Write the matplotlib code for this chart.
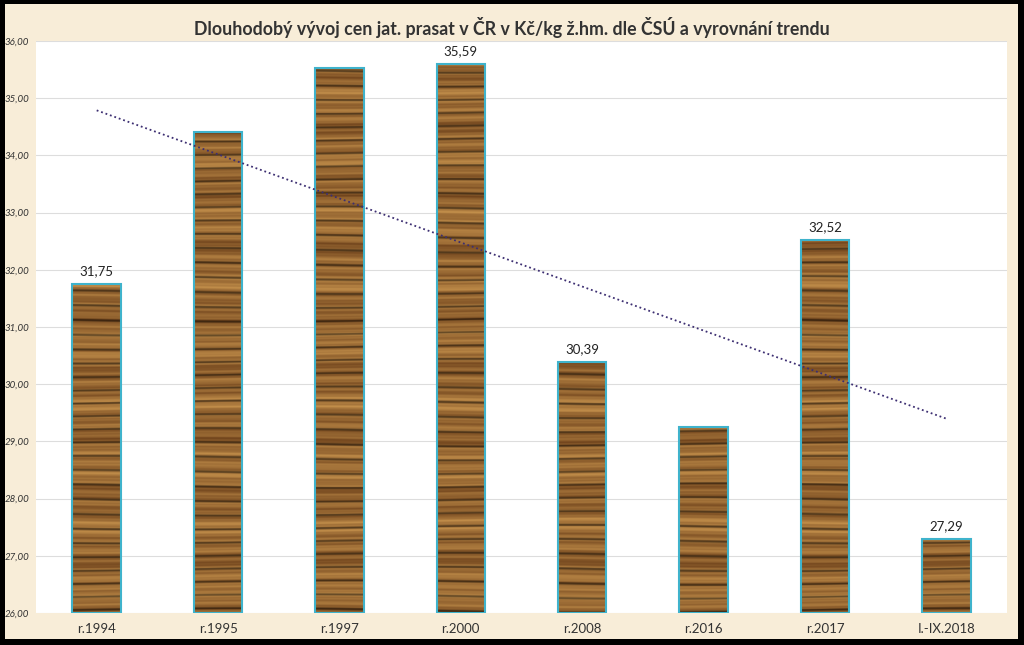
import numpy as np
import matplotlib
matplotlib.use("Agg")
import matplotlib.pyplot as plt
from matplotlib.patches import Rectangle

# data
categories = ["r.1994", "r.1995", "r.1997", "r.2000", "r.2008", "r.2016", "r.2017", "I.-IX.2018"]
prices = [31.75, 34.41, 35.53, 35.59, 30.39, 29.26, 32.52, 27.29]
labelled = [True, False, False, True, True, False, True, True]
y_ticks = [26, 27, 28, 29, 30, 31, 32, 33, 34, 35, 36]

title = "Dlouhodobý vývoj cen jat. prasat v ČR v Kč/kg ž.hm. dle ČSÚ a vyrovnání trendu"

plt.rcParams['font.family'] = ['Lato', 'DejaVu Sans']

fig = plt.figure(figsize=(10.24, 6.45), dpi=100)
fig.patch.set_facecolor('black')
fig.add_artist(Rectangle((5 / 1024, 6 / 645), 1013 / 1024, 635 / 645,
                         transform=fig.transFigure, facecolor='#F8EDD8',
                         edgecolor='none', zorder=0))

ax = fig.add_axes([36 / 1024, 1 - 613 / 645, 971 / 1024, 572 / 645])
ax.set_facecolor('white')

# wood grain texture (decoration only)
rows, cols = 700, 60
t = np.linspace(0, 1, rows)[:, None]
s = np.linspace(0, 1, cols)[None, :]
warp = t + 0.004 * np.sin(2 * np.pi * (s * 1.3 + t * 3.0))
g = (0.45 * np.sin(2 * np.pi * 61 * warp) + 0.30 * np.sin(2 * np.pi * 23.7 * warp + 1.1)
     + 0.25 * np.sin(2 * np.pi * 137 * warp + 0.4) + 0.35 * np.sin(2 * np.pi * 9.3 * warp + 2.0)
     + 0.15 * np.sin(2 * np.pi * (211 * warp + 2 * s)))
dark = np.clip((np.sin(2 * np.pi * 41.3 * warp + 0.7) - 0.8) * 5, 0, 1)
g = (g - g.min()) / (g.max() - g.min())
light = np.array([200, 148, 78]) / 255
deep = np.array([108, 64, 26]) / 255
tex = light * g[..., None] + deep * (1 - g[..., None])
tex = tex * (1 - 0.5 * dark[..., None])
tex = np.clip(tex, 0, 1)

bar_w = 0.4
x = np.arange(len(categories))
bars = ax.bar(x, [p - 26 for p in prices], bottom=26, width=bar_w,
              facecolor='none', edgecolor='#3FB3CC', linewidth=1.5, zorder=3)
for b in bars:
    im = ax.imshow(tex, extent=(-0.5, len(categories) - 0.5, 26, 36),
                   aspect='auto', zorder=2, interpolation='bilinear')
    clip = Rectangle((b.get_x(), b.get_y()), b.get_width(), b.get_height(),
                     transform=ax.transData)
    im.set_clip_path(clip)
ax.set_xlim(-0.5, len(categories) - 0.5)
ax.set_ylim(26, 36)

for xi, p, show in zip(x, prices, labelled):
    if show:
        ax.text(xi, p + 0.12, f"{p:.2f}".replace('.', ','), ha='center', va='bottom',
                fontsize=9.5, color='#222222', zorder=4)

# linear trend
k, q = np.polyfit(x, prices, 1)
ax.plot(x, k * x + q, linestyle=(0, (1, 1.6)), color='#3D2F72', linewidth=1.3, zorder=5)

ax.set_yticks(y_ticks)
ax.set_yticklabels([f"{v:.2f}".replace('.', ',') for v in y_ticks],
                   fontsize=7, style='italic', color='#333333')
ax.set_xticks(x)
ax.set_xticklabels(categories, fontsize=9.5, color='#333333')
ax.tick_params(axis='y', length=0, pad=5)
ax.tick_params(axis='x', length=0, pad=7)
ax.grid(axis='y', color='#DDDDDD', linewidth=0.8, zorder=1)
ax.set_axisbelow(True)
for sp in ax.spines.values():
    sp.set_visible(False)

fig.text(0.5, 1 - 28 / 645, title, ha='center', va='center', fontsize=12.8,
         fontweight='bold', color='#333333')

fig.savefig("out.png", dpi=100, facecolor=fig.get_facecolor())
